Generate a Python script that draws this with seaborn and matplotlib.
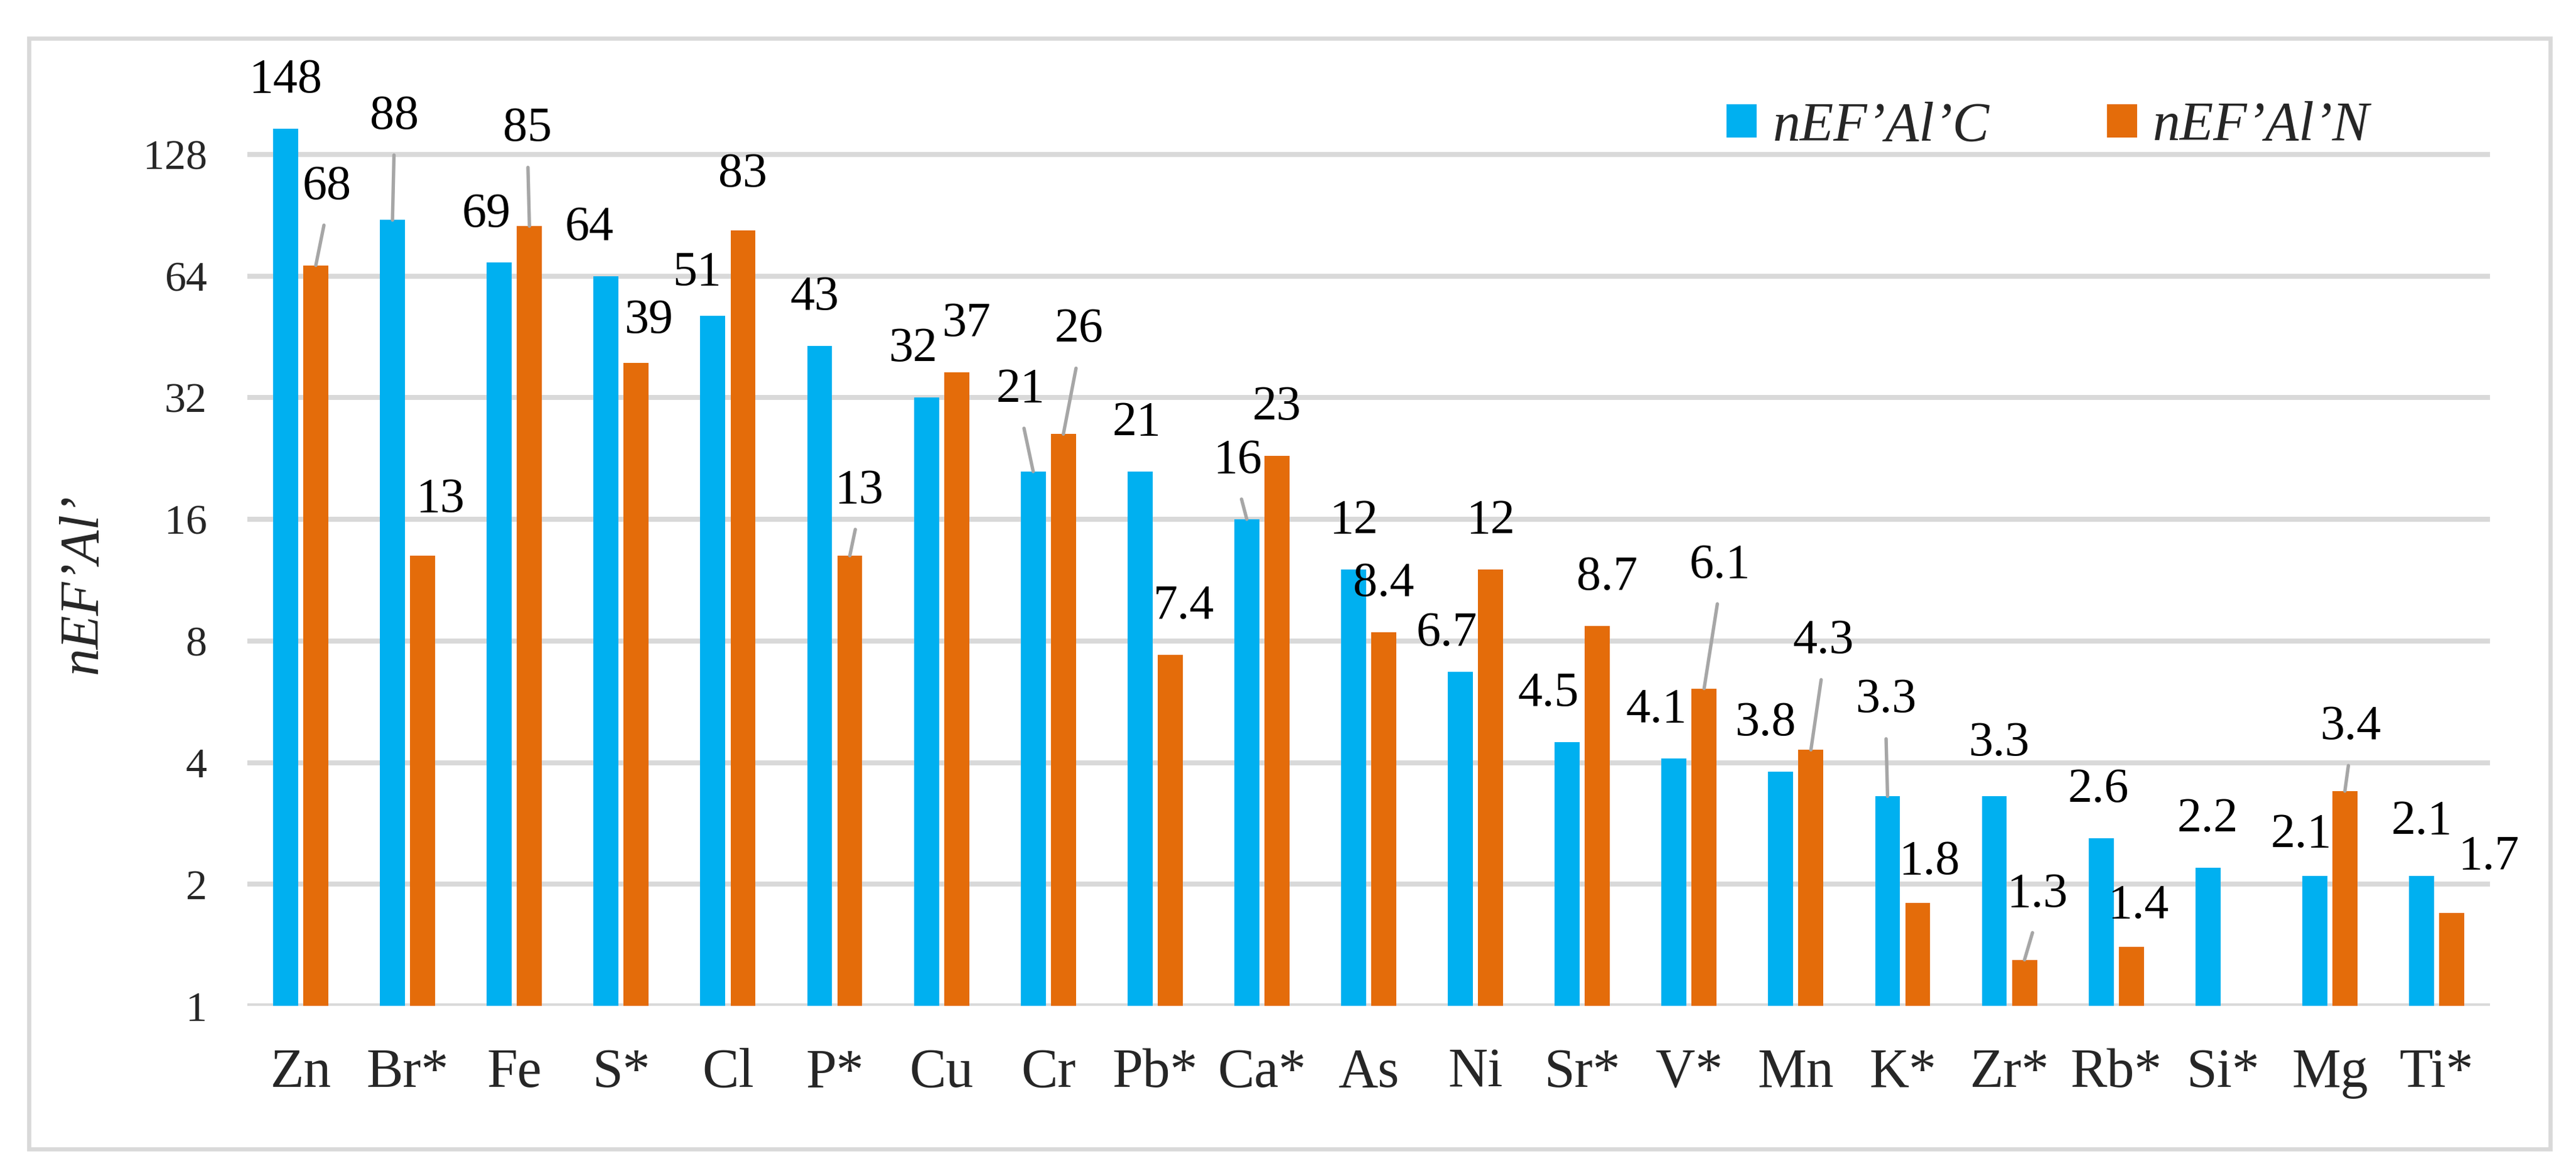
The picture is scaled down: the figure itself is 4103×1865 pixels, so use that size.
import numpy as np
import pandas as pd
import matplotlib
matplotlib.use('Agg')
import matplotlib.pyplot as plt
from matplotlib.patches import Rectangle, Patch
import seaborn as sns

# data
elements = ['Zn', 'Br*', 'Fe', 'S*', 'Cl', 'P*', 'Cu', 'Cr', 'Pb*', 'Ca*', 'As',
            'Ni', 'Sr*', 'V*', 'Mn', 'K*', 'Zr*', 'Rb*', 'Si*', 'Mg', 'Ti*']
nef_c = [148, 88, 69, 64, 51, 43, 32, 21, 21, 16, 12,
         6.7, 4.5, 4.1, 3.8, 3.3, 3.3, 2.6, 2.2, 2.1, 2.1]
nef_n = [68, 13, 85, 39, 83, 13, 37, 26, 7.4, 23, 8.4,
         12, 8.7, 6.1, 4.3, 1.8, 1.3, 1.4, np.nan, 3.4, 1.7]
series = ['nEF\u2019Al\u2019C', 'nEF\u2019Al\u2019N']
y_ticks = [1, 2, 4, 8, 16, 32, 64, 128]

colors = ['#00B0F0', '#E46C0A']

# label nudges (pixels, +y up) relative to the default "outside end" spot
shift = {
    (0, 'Zn'): (0, 0), (1, 'Zn'): (18, 48),
    (0, 'Br*'): (3, 88), (1, 'Br*'): (28, 12),
    (0, 'Fe'): (-21, 0), (1, 'Fe'): (-3, 78),
    (0, 'S*'): (-27, 0), (1, 'S*'): (20, -10),
    (0, 'Cl'): (-25, -9), (1, 'Cl'): (-1, 12),
    (0, 'P*'): (-8, 0), (1, 'P*'): (14, 26),
    (0, 'Cu'): (-22, 0), (1, 'Cu'): (15, 0),
    (0, 'Cr'): (-20, 53), (1, 'Cr'): (25, 89),
    (0, 'Pb*'): (-5, 0), (1, 'Pb*'): (22, 0),
    (0, 'Ca*'): (-15, 16), (1, 'Ca*'): (0, 0),
    (0, 'As'): (0, 0), (1, 'As'): (0, 0),
    (0, 'Ni'): (-22, -16), (1, 'Ni'): (0, 0),
    (0, 'Sr*'): (-30, 0), (1, 'Sr*'): (15, 0),
    (0, 'V*'): (-28, 0), (1, 'V*'): (25, 119),
    (0, 'Mn'): (-25, 0), (1, 'Mn'): (20, 96),
    (0, 'K*'): (-3, 76), (1, 'K*'): (18, -12),
    (0, 'Zr*'): (7, 7), (1, 'Zr*'): (20, 27),
    (0, 'Rb*'): (-4, 0), (1, 'Rb*'): (11, -12),
    (0, 'Si*'): (0, 0),
    (0, 'Mg'): (-22, -12), (1, 'Mg'): (9, 25),
    (0, 'Ti*'): (0, 9), (1, 'Ti*'): (59, 12),
}
leaders = {(1, 'Zn'), (0, 'Br*'), (1, 'Fe'), (1, 'P*'), (0, 'Cr'), (1, 'Cr'),
           (0, 'Ca*'), (1, 'V*'), (1, 'Mn'), (0, 'K*'), (1, 'Zr*'), (1, 'Mg')}

df = pd.DataFrame({
    'element': elements * 2,
    'series': [series[0]] * len(elements) + [series[1]] * len(elements),
    'value': nef_c + nef_n,
})

sns.set_style('white')
plt.rcParams['font.family'] = ['Liberation Serif', 'DejaVu Serif']

W, H, DPI = 4103, 1865, 300
px = 72 / DPI  # pixels -> points

fig = plt.figure(figsize=(W / DPI, H / DPI), dpi=DPI)
ax = fig.add_axes([394 / W, 1 - 1602 / H, (3966 - 394) / W, (1602 - 52) / H])

sns.barplot(data=df, x='element', y='value', hue='series', order=elements,
            hue_order=series, palette=colors, saturation=1, width=0.565, gap=0.17,
            linewidth=0, errorbar=None, legend=False, ax=ax)

ax.set_yscale('log', base=2)
ax.set_ylim(1, 256)
ax.set_xlim(-0.5, len(elements) - 0.5)
ax.set_yticks(y_ticks)
ax.set_yticklabels([str(t) for t in y_ticks])
ax.minorticks_off()
ax.yaxis.grid(True, color='#D9D9D9', linewidth=1.9)
ax.xaxis.grid(False)
ax.set_axisbelow(True)
for s in ax.spines.values():
    s.set_visible(False)
ax.tick_params(axis='x', length=0, pad=16, labelsize=21)
ax.tick_params(axis='y', length=0, pad=15.4, labelsize=16.3)
ax.set_xlabel('')
ax.set_ylabel('nEF\u2019Al\u2019', fontsize=21, style='italic')
ax.yaxis.set_label_coords(-0.0619, 0.4335)

values = [nef_c, nef_n]
for h, cont in enumerate(ax.containers):
    for bar in cont:
        xc = bar.get_x() + bar.get_width() / 2
        top = bar.get_height()
        if not np.isfinite(top) or top <= 0:
            continue
        i = int(round(xc))
        el = elements[i]
        v = values[h][i]
        dx, dy = shift.get((h, el), (0, 0))
        kw = {}
        if (h, el) in leaders:
            kw['arrowprops'] = dict(arrowstyle='-', color='#A6A6A6', lw=1.3,
                                    relpos=(0.5, 0), shrinkA=4, shrinkB=0)
        ax.annotate(f'{v:g}', xy=(xc, top), xytext=(dx * px, (58 + dy) * px),
                    textcoords='offset points', ha='center', va='baseline',
                    fontsize=18.7, color='black', annotation_clip=False, **kw)

handles = [Patch(facecolor=c, edgecolor='none') for c in colors]
fig.legend(handles, series, loc='center left', bbox_to_anchor=(2750 / W, 1 - 202 / H),
           ncol=2, frameon=False, prop={'size': 21, 'style': 'italic'},
           handlelength=0.55, handleheight=0.55, handletextpad=0.29,
           columnspacing=2.14, borderpad=0, borderaxespad=0)

fig.patches.append(Rectangle((46 / W, 1 - 1830 / H), (4062 - 46) / W, (1830 - 61) / H,
                             transform=fig.transFigure, fill=False,
                             edgecolor='#D9D9D9', linewidth=1.6))

fig.savefig('out.png', dpi=DPI, facecolor='white')
